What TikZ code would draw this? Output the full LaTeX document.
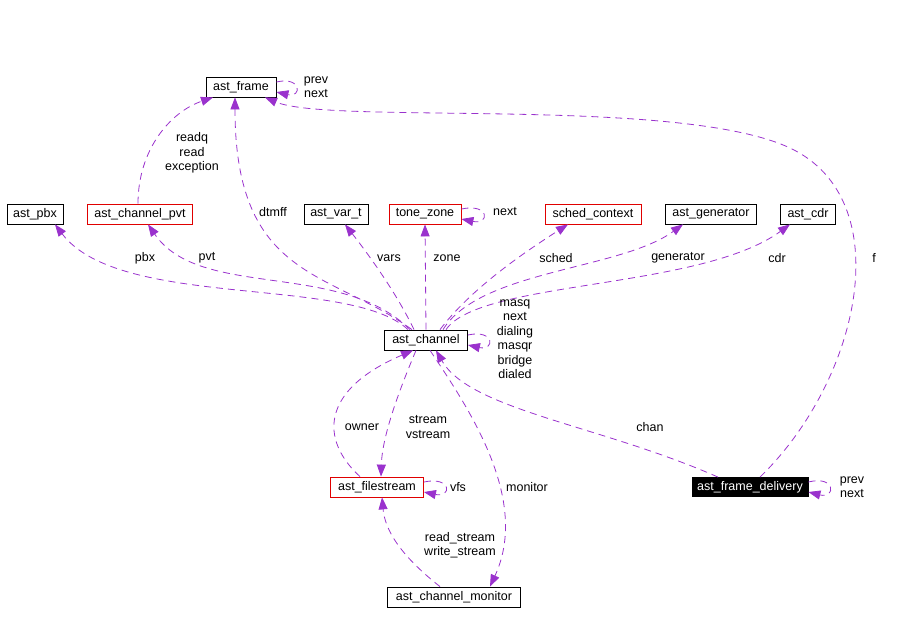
\documentclass[tikz,border=0pt]{standalone}
\usepackage{fontspec}
\setmainfont{Liberation Sans}
\usetikzlibrary{arrows.meta,calc}
\definecolor{edge}{HTML}{9A32CD}
\definecolor{redline}{HTML}{E00000}
\begin{document}
\begin{tikzpicture}[x=1pt,y=-1pt,
 box/.style={draw=black,line width=0.8pt,fill=white,minimum height=20pt,inner sep=0pt,font=\fontsize{12.5}{14}\selectfont},
 redbox/.style={box,draw=redline},
 lbl/.style={font=\fontsize{12.5}{14.5}\selectfont,align=center,inner sep=0pt},
 rel/.style={draw=edge,line width=0.8pt,dash pattern=on 7pt off 5pt,-{Triangle[length=12pt,width=9pt]}},
]
\useasboundingbox (0,0) rectangle (924,624);

\node[box,minimum width=70pt] (fr) at (241,87) {ast\_frame};
\node[box,minimum width=56pt] (pbx) at (35,214) {ast\_pbx};
\node[redbox,minimum width=105pt] (pvt) at (140,214) {ast\_channel\_pvt};
\node[box,minimum width=64pt] (var) at (336,214) {ast\_var\_t};
\node[redbox,minimum width=72pt] (tz) at (425,214) {tone\_zone};
\node[redbox,minimum width=96pt] (sc) at (593,214) {sched\_context};
\node[box,minimum width=91pt] (gen) at (711,214) {ast\_generator};
\node[box,minimum width=55pt] (cdr) at (808,214) {ast\_cdr};
\node[box,minimum width=83pt] (ch) at (426,340) {ast\_channel};
\node[redbox,minimum width=93pt] (fs) at (377,487) {ast\_filestream};
\node[box,minimum width=133pt] (mon) at (454,597) {ast\_channel\_monitor};
\node[box,fill=black,text=white,minimum width=116pt,minimum height=19pt] (fd) at (750,487) {ast\_frame\_delivery};

% to ast_frame
\draw[rel] ($(pvt.north)+(-2,0)$) .. controls (138,150) and (170,112) .. ($(fr.south)+(-28,0)$);
\draw[rel] ($(ch.north)+(-14,0)$) .. controls (330,270) and (235,280) .. ($(fr.south)+(-6,0)$);
\draw[rel] ($(fd.north)+(10,0)$) .. controls (860,380) and (900,200) .. (790,148) .. controls (680,96) and (330,125) .. ($(fr.south)+(24,0)$);
\draw[rel] ($(fr.east)+(0,-5)$) .. controls (302,76) and (302,98) .. ($(fr.east)+(0,5)$);

% from ast_channel upwards
\draw[rel] ($(ch.north)+(-18,0)$) .. controls (350,275) and (120,310) .. ($(pbx.south)+(20,0)$);
\draw[rel] ($(ch.north)+(-16,0)$) .. controls (340,260) and (200,300) .. ($(pvt.south)+(8,0)$);
\draw[rel] ($(ch.north)+(-12,0)$) .. controls (395,290) and (365,250) .. ($(var.south)+(9,0)$);
\draw[rel] (ch.north) -- (tz.south);
\draw[rel] ($(ch.north)+(14,0)$) .. controls (470,290) and (520,255) .. ($(sc.south)+(-25,0)$);
\draw[rel] ($(ch.north)+(17,0)$) .. controls (480,270) and (620,270) .. ($(gen.south)+(-28,0)$);
\draw[rel] ($(ch.north)+(20,0)$) .. controls (480,280) and (700,290) .. ($(cdr.south)+(-18,0)$);
\draw[rel] ($(tz.east)+(0,-5)$) .. controls (490,203) and (490,225) .. ($(tz.east)+(0,5)$);
\draw[rel] ($(ch.east)+(0,-5)$) .. controls (495,329) and (495,351) .. ($(ch.east)+(0,5)$);

% lower part
\draw[rel] ($(fs.north)+(-17,0)$) .. controls (320,440) and (320,390) .. ($(ch.south)+(-13,0)$);
\draw[rel] ($(ch.south)+(-10,0)$) .. controls (395,400) and (382,440) .. ($(fs.north)+(4,0)$);
\draw[rel] ($(fs.east)+(0,-5)$) .. controls (452,476) and (452,498) .. ($(fs.east)+(0,5)$);
\draw[rel] ($(fd.north)+(-32,0)$) .. controls (600,425) and (470,410) .. ($(ch.south)+(10,0)$);
\draw[rel] ($(ch.south)+(4,0)$) .. controls (470,410) and (530,500) .. ($(mon.north)+(36,0)$);
\draw[rel] ($(mon.north)+(-14,0)$) .. controls (400,555) and (385,530) .. ($(fs.south)+(5,0)$);
\draw[rel] ($(fd.east)+(0,-5)$) .. controls (836,475) and (836,499) .. ($(fd.east)+(0,5)$);

% labels
\node[lbl] (l1) at (192,153) {readq\\read\\exception};
\node[lbl] (l2) at (273,212) {dtmff};
\node[lbl] (l3) at (316,87) {prev\\next};
\node[lbl] (l4) at (145,258) {pbx};
\node[lbl] (l5) at (207,258) {pvt};
\node[lbl] (l6) at (389,258) {vars};
\node[lbl] (l7) at (447,258) {zone};
\node[lbl] (l8) at (556,258) {sched};
\node[lbl] (l9) at (678,258) {generator};
\node[lbl] (l10) at (777,258) {cdr};
\node[lbl] (l11) at (874,258) {f};
\node[lbl] (l12) at (505,212) {next};
\node[lbl] (l13) at (515,339) {masq\\next\\dialing\\masqr\\bridge\\dialed};
\node[lbl] (l14) at (362,427) {owner};
\node[lbl] (l15) at (428,427) {stream\\vstream};
\node[lbl] (l16) at (458,487) {vfs};
\node[lbl] (l17) at (527,487) {monitor};
\node[lbl] (l18) at (650,427) {chan};
\node[lbl] (l19) at (460,545) {read\_stream\\write\_stream};
\node[lbl] (l20) at (852,487) {prev\\next};
\end{tikzpicture}
\end{document}
